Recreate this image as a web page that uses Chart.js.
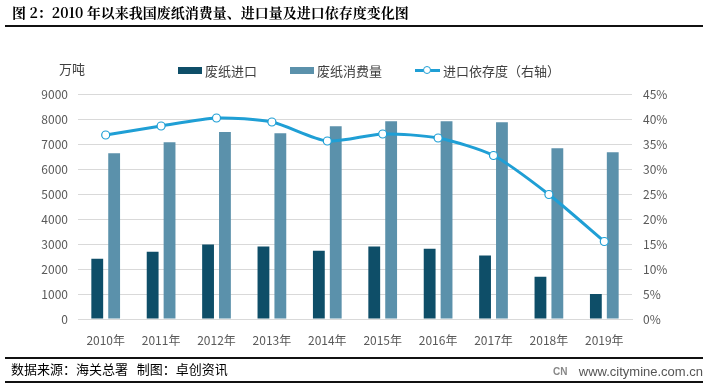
<!DOCTYPE html>
<html>
<head>
<meta charset="utf-8">
<script src="https://cdn.jsdelivr.net/npm/chart.js@4"></script>
<style>
  body { margin: 0; background: #fff; font-family: "Noto Sans CJK SC", sans-serif; }
  #wrap { position: relative; width: 708px; height: 384px; overflow: hidden; }
  #title { position: absolute; left: 12px; top: 2px; font-size: 14px; font-weight: bold; color: #000; font-family: "Noto Serif CJK SC", "Noto Sans CJK SC", serif; }
  .rule { position: absolute; left: 5px; right: 5px; height: 2px; background: #111; }
  #unit { position: absolute; left: 59px; top: 59px; font-size: 13px; color: #404040; }
  #legend { position: absolute; top: 61px; left: 178px; font-size: 13px; color: #404040; display: flex; align-items: center; }
  .item { display: flex; align-items: center; margin-right: 33px; }
  .box { width: 24px; height: 7px; margin-right: 3px; }
  .ln { position: relative; width: 25px; height: 3px; background: #1f9fd5; margin-right: 3px; }
  .ln i { position: absolute; left: 8px; top: -3px; width: 6px; height: 6px; border: 1.5px solid #1f9fd5; border-radius: 50%; background: #fff; }
  #src { position: absolute; left: 11px; top: 359px; font-size: 13px; color: #000; }
  #web { position: absolute; right: 5px; top: 364px; font-size: 13px; color: #555; font-family: "Liberation Sans", sans-serif; }
  #logo { position: absolute; left: 553px; top: 366px; font-size: 10px; font-weight: bold; color: #888; font-family: "Liberation Sans", sans-serif; }
  canvas { position: absolute; left: 0; top: 0; }
</style>
</head>
<body>
<div id="wrap">
  <canvas id="chart" width="708" height="384"></canvas>
  <div id="title">图 2：2010 年以来我国废纸消费量、进口量及进口依存度变化图</div>
  <div class="rule" style="top:25px"></div>
  <div id="unit">万吨</div>
  <div id="legend">
    <div class="item"><div class="box" style="background:#0e4e68"></div>废纸进口</div>
    <div class="item"><div class="box" style="background:#5b91ab"></div>废纸消费量</div>
    <div class="item"><div class="ln"><i></i></div>进口依存度（右轴）</div>
  </div>
  <div class="rule" style="top:357px"></div>
  <div id="src">数据来源：海关总署&nbsp;&nbsp;&nbsp;制图：卓创资讯</div>
  <div id="logo">CN</div>
  <div id="web">www.citymine.com.cn</div>
  <div class="rule" style="top:381px; height:1.5px"></div>
</div>
<script>
const years = ["2010年", "2011年", "2012年", "2013年", "2014年", "2015年", "2016年", "2017年", "2018年", "2019年"];
const imports = [2410, 2690, 2980, 2900, 2730, 2900, 2810, 2540, 1690, 1000];
const consumption = [6630, 7070, 7480, 7430, 7710, 7910, 7910, 7870, 6830, 6670];
const dependence = [36.8, 38.6, 40.2, 39.4, 35.6, 37.0, 36.2, 32.7, 24.9, 15.5];
const leftTicks = [0, 1000, 2000, 3000, 4000, 5000, 6000, 7000, 8000, 9000];
const rightTicks = [0, 5, 10, 15, 20, 25, 30, 35, 40, 45];

const tickFont = { family: "Noto Sans CJK SC", size: 12 };

new Chart(document.getElementById("chart"), {
  data: {
    labels: years,
    datasets: [
      {
        type: "line",
        label: "进口依存度（右轴）",
        data: dependence,
        yAxisID: "y2",
        borderColor: "#1f9fd5",
        borderWidth: 3,
        pointRadius: 4,
        pointBackgroundColor: "#fff",
        pointBorderColor: "#1f9fd5",
        pointBorderWidth: 1.2,
        tension: 0.25,
        order: 0
      },
      {
        type: "bar",
        label: "废纸进口",
        data: imports,
        yAxisID: "y",
        backgroundColor: "#0e4e68",
        categoryPercentage: 0.61,
        barPercentage: 0.7,
        order: 1
      },
      {
        type: "bar",
        label: "废纸消费量",
        data: consumption,
        yAxisID: "y",
        backgroundColor: "#5b91ab",
        categoryPercentage: 0.61,
        barPercentage: 0.7,
        order: 1
      }
    ]
  },
  options: {
    responsive: false,
    animation: false,
    layout: { padding: { top: 94, bottom: 35, left: 0, right: 0 } },
    plugins: { legend: { display: false }, tooltip: { enabled: false } },
    scales: {
      x: {
        grid: { display: false },
        border: { color: "#d9d9d9" },
        ticks: { color: "#595959", font: tickFont, padding: 6 },
        afterFit: s => { s.height = 30; }
      },
      y: {
        position: "left",
        min: 0, max: 9000,
        afterBuildTicks: s => { s.ticks = leftTicks.map(v => ({ value: v })); },
        grid: { color: "#d9d9d9", drawTicks: false },
        border: { display: false },
        ticks: { color: "#595959", font: tickFont, padding: 10, callback: v => String(v) },
        afterFit: s => { s.width = 78; }
      },
      y2: {
        position: "right",
        min: 0, max: 45,
        afterBuildTicks: s => { s.ticks = rightTicks.map(v => ({ value: v })); },
        grid: { display: false, drawTicks: false },
        border: { display: false },
        ticks: { color: "#595959", font: tickFont, padding: 11, callback: v => v + "%" },
        afterFit: s => { s.width = 76; }
      }
    }
  }
});
</script>
</body>
</html>
